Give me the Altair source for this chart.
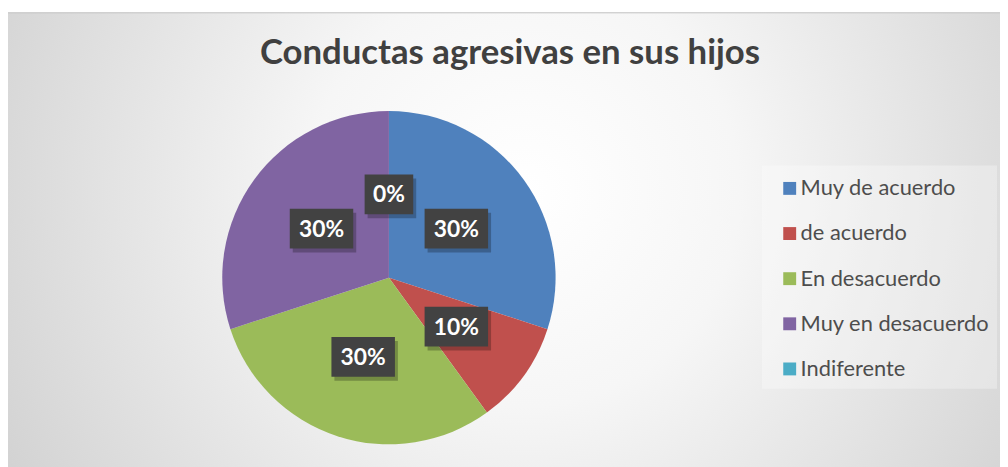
import altair as alt
import pandas as pd

# ---- data ----
categories = ["Muy de acuerdo", "de acuerdo", "En desacuerdo", "Muy en desacuerdo", "Indiferente"]
values = [30, 10, 30, 30, 0]
colors = ["#4F81BD", "#C0504D", "#9BBB59", "#8064A2", "#4BACC6"]
title_text = "Conductas agresivas en sus hijos"

df = pd.DataFrame({"categoria": categories, "valor": values, "orden": list(range(len(categories)))})
one = pd.DataFrame({"k": [0]})

# ---- layout ----
W, H = 1000, 459
CX, CY, R = 384, 270, 168
LR = 84
FONT = "Lato"

bg = alt.Chart(one).mark_rect(
    fill=alt.RadialGradient(
        gradient="radial",
        stops=[
            alt.GradientStop(color="#ffffff", offset=0),
            alt.GradientStop(color="#f6f6f6", offset=0.3),
            alt.GradientStop(color="#c6c6c6", offset=1),
        ],
        x1=0.52, y1=0.45, r1=0, x2=0.52, y2=0.45, r2=0.72,
    ),
    stroke="#c0c0c0",
    strokeWidth=1,
).encode(x=alt.value(-1), x2=alt.value(W + 2), y=alt.value(3), y2=alt.value(H + 5))

legend_box = alt.Chart(one).mark_rect(fill="#ffffff", opacity=0.3).encode(
    x=alt.value(760), x2=alt.value(997), y=alt.value(157), y2=alt.value(382)
)

title = alt.Chart(one).mark_text(
    text=title_text, font=FONT, fontSize=35, fontWeight="bold", color="#404040",
    align="center", baseline="alphabetic",
).encode(x=alt.value(506), y=alt.value(55))

pie = alt.Chart(df).mark_arc(outerRadius=R).encode(
    theta=alt.Theta("valor:Q", stack=True),
    color=alt.Color(
        "categoria:N",
        scale=alt.Scale(domain=categories, range=colors),
        sort=categories,
        legend=alt.Legend(
            title=None, orient="none", legendX=777, legendY=169,
            symbolType="square", symbolSize=169, symbolStrokeWidth=0,
            labelFont=FONT, labelFontSize=22, labelColor="#4d4d4d",
            rowPadding=23.5, labelOffset=0, padding=0, labelLimit=300,
        ),
    ),
    order=alt.Order("orden:Q"),
    x=alt.value(CX),
    y=alt.value(CY),
)

lab_base = (
    alt.Chart(df)
    .transform_window(cum="sum(valor)", sort=[alt.SortField("orden")], frame=[None, 0])
    .transform_joinaggregate(total="sum(valor)")
    .transform_calculate(mid="(datum.cum - datum.valor / 2) / datum.total * 2 * PI")
    .transform_calculate(px=f"{CX} + {LR} * sin(datum.mid)")
    .transform_calculate(py=f"{CY} - {LR} * cos(datum.mid)")
    .transform_calculate(etiqueta="format(datum.valor / datum.total, '.0%')")
    .transform_calculate(bw="19 + 15 * length(datum.etiqueta)")
    .transform_calculate(bx1="datum.px - datum.bw / 2")
    .transform_calculate(bx2="datum.px + datum.bw / 2")
    .transform_calculate(by1="datum.py - 20")
    .transform_calculate(by2="datum.py + 20")
    .transform_calculate(sx1="datum.bx1 + 3", sx2="datum.bx2 + 3", sy1="datum.by1 + 4", sy2="datum.by2 + 4")
)

shadow = lab_base.mark_rect(fill="#000000", opacity=0.25).encode(
    x=alt.X("sx1:Q", scale=None, axis=None), x2="sx2:Q",
    y=alt.Y("sy1:Q", scale=None, axis=None), y2="sy2:Q",
)
boxes = lab_base.mark_rect(fill="#424242").encode(
    x=alt.X("bx1:Q", scale=None, axis=None), x2="bx2:Q",
    y=alt.Y("by1:Q", scale=None, axis=None), y2="by2:Q",
)
texts = lab_base.mark_text(
    font=FONT, fontSize=23, fontWeight="bold", color="#ffffff", align="center", baseline="middle", dy=1
).encode(
    x=alt.X("px:Q", scale=None, axis=None),
    y=alt.Y("py:Q", scale=None, axis=None),
    text="etiqueta:N",
)

chart = alt.layer(bg, legend_box, title, pie, shadow, boxes, texts).properties(
    width=W, height=H, autosize=alt.AutoSizeParams(type="none"), padding=0, background="white"
).configure_view(stroke=None)

chart.save("out.html", embed_options={"renderer": "svg", "actions": False})
